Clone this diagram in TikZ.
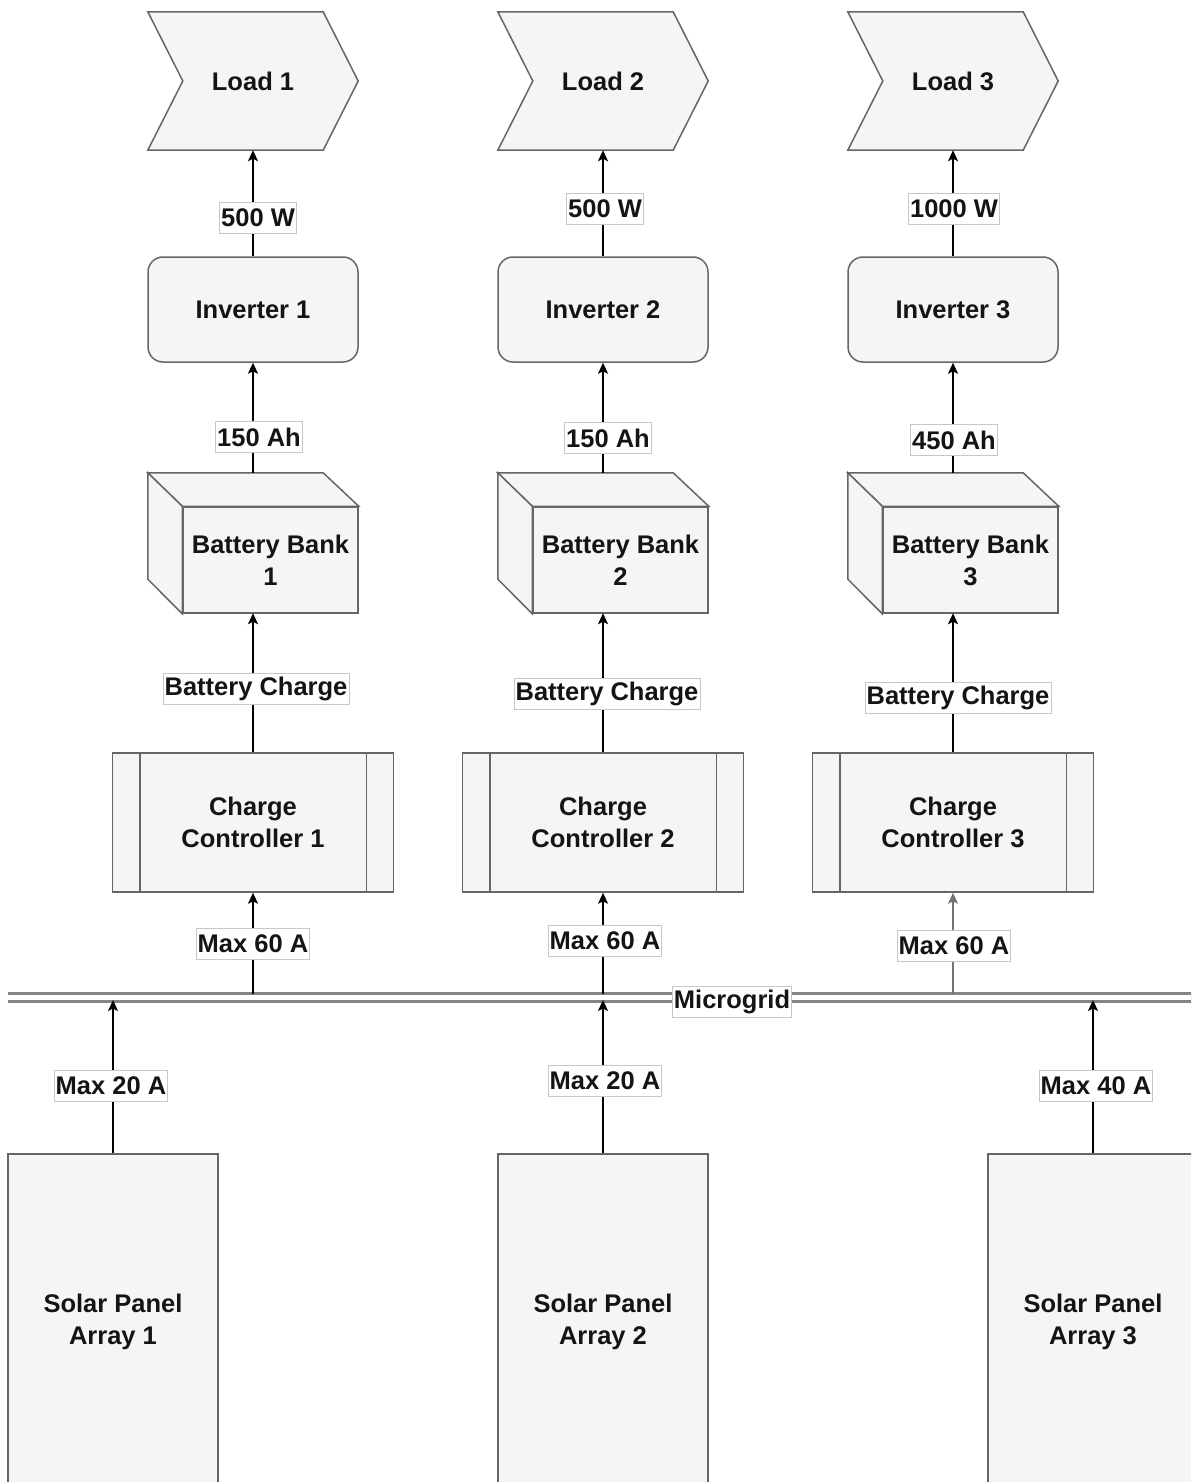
\documentclass[tikz,border=0pt]{standalone}
\usepackage{fontspec}
\setmainfont{Liberation Sans}
\usetikzlibrary{arrows.meta,backgrounds}
\definecolor{shfill}{HTML}{F5F5F5}
\definecolor{shdraw}{HTML}{666666}
\definecolor{lblframe}{HTML}{C8C8C8}
\definecolor{gridcol}{HTML}{858585}
\definecolor{txt}{HTML}{141414}
\begin{document}
\begin{tikzpicture}[x=1pt,y=-1pt,
  every node/.style={font=\fontsize{25.5}{32}\selectfont\bfseries, text=txt, align=center},
  shapebox/.style={draw=shdraw, fill=shfill, line width=1.5pt},
  ghost/.style={draw=none, fill=none, inner sep=0pt},
  conn/.style={line width=1.6pt, -{Stealth[length=11pt,width=10pt,inset=2.5pt]}},
  lbl/.style={fill=white, draw=lblframe, line width=0.8pt, inner sep=1.5pt, minimum height=31pt}
]
\useasboundingbox (0,0) rectangle (1191,1482);
\clip (0,0) rectangle (1191,1482);

% microgrid bus
\coordinate (gridW) at (8,997);
\coordinate (gridE) at (1200,997);
\draw[gridcol, line width=3pt, double=white, double distance=5pt] (gridW) -- (gridE);

\foreach \i/\cx/\w/\wx/\wy/\ah/\ahx/\ahy/\bcx/\bcy/\mxx/\mxy/\ec in
  {1/253/500 W/258/218/150 Ah/259/437/256/689/253/944/black,
   2/603/500 W/605/209/150 Ah/608/438/607/694/605/941/black,
   3/953/1000 W/954/209/450 Ah/954/440/958/698/954/946/black!55}{
  % load chevron
  \node[ghost, minimum width=210pt, minimum height=138pt] (load\i) at (\cx,81) {Load \i};
  \begin{scope}[on background layer]
    \draw[shapebox, line join=miter] (load\i.north west) -- ([xshift=-35pt]load\i.north east)
      -- (load\i.east) -- ([xshift=-35pt]load\i.south east) -- (load\i.south west)
      -- ([xshift=35pt]load\i.west) -- cycle;
  \end{scope}
  % inverter
  \node[shapebox, rounded corners=15pt, minimum width=210pt, minimum height=105pt] (inv\i) at (\cx,309.5) {Inverter \i};
  % battery bank cube
  \node[ghost, minimum width=210pt, minimum height=140pt] (bat\i) at (\cx,543) {};
  \node[shapebox, minimum width=175pt, minimum height=106pt] (batf\i) at ({\cx+17.5},560) {Battery Bank\\\i};
  \begin{scope}[on background layer]
    \draw[shapebox, line join=miter] (bat\i.north west) -- ([xshift=-35pt]bat\i.north east)
      -- (batf\i.north east) -- (batf\i.north west) -- cycle;
    \draw[shapebox, line join=miter] (bat\i.north west) -- (batf\i.north west)
      -- (batf\i.south west) -- ([yshift=34pt]bat\i.south west) -- cycle;
  \end{scope}
  % charge controller
  \node[shapebox, minimum width=281pt, minimum height=139pt] (cc\i) at (\cx,822.5) {Charge\\Controller \i};
  \draw[draw=shdraw, line width=1.5pt] ([xshift=28pt]cc\i.north west) -- ([xshift=28pt]cc\i.south west);
  \draw[draw=shdraw, line width=1.5pt] ([xshift=-28pt]cc\i.north east) -- ([xshift=-28pt]cc\i.south east);
  % connectors
  \coordinate (tap\i) at (\cx,994);
  \draw[conn, draw=\ec, fill=\ec] (tap\i) -- (cc\i.south);
  \draw[conn] (cc\i.north) -- (cc\i.north |- bat\i.south);
  \draw[conn] (bat\i.north) -- (inv\i.south);
  \draw[conn] (inv\i.north) -- (load\i.south);
  % labels
  \node[lbl] (lw\i) at (\wx,\wy) {\w};
  \node[lbl] (lah\i) at (\ahx,\ahy) {\ah};
  \node[lbl] (lbc\i) at (\bcx,\bcy) {Battery Charge};
  \node[lbl] (lmx\i) at (\mxx,\mxy) {Max 60 A};
}

\node[lbl] (mglbl) at (732,1002) {Microgrid};

% solar panels
\foreach \i/\sx/\amp/\ax/\ay in {1/113/Max 20 A/111/1086, 2/603/Max 20 A/605/1081, 3/1093/Max 40 A/1096/1086}{
  \node[shapebox, minimum width=210pt, minimum height=336pt] (sp\i) at (\sx,1322) {Solar Panel\\Array \i};
  \coordinate (in\i) at (\sx,1000);
  \draw[conn] (sp\i.north) -- (in\i);
  \node[lbl] (lsp\i) at (\ax,\ay) {\amp};
}
\end{tikzpicture}
\end{document}
